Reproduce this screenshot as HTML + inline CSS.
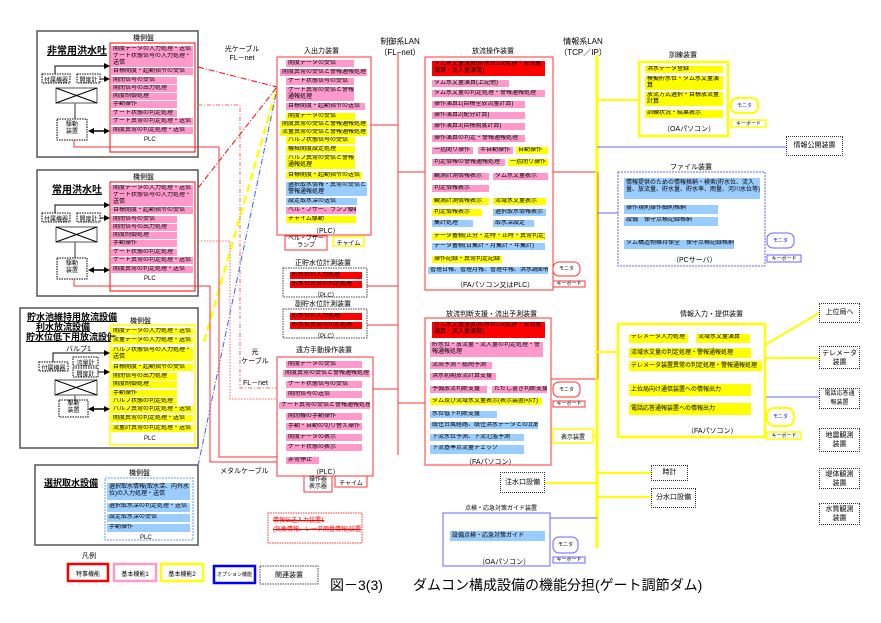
<!DOCTYPE html>
<html><head><meta charset="utf-8">
<style>
*{margin:0;padding:0;box-sizing:border-box}
body{width:881px;height:623px;background:#fff;position:relative;overflow:hidden;font-family:"Liberation Sans","Noto Sans CJK JP",sans-serif;color:#000}
div{position:absolute}
.r{font-size:6px;line-height:7px;padding-left:2px;white-space:nowrap;overflow:hidden}
.r2{font-size:6px;line-height:7px;padding-left:2px;white-space:normal;overflow:hidden}
.p{background:#ff99cc}.y{background:#ffff00}.b{background:#99ccff}.rd{background:#ff0000}
.t{font-size:7px;white-space:nowrap}
.bx{border:1px dotted #333}
.ctr{text-align:center}
svg{position:absolute;left:0;top:0}
</style></head><body>
<svg width="881" height="623">
<g fill="none" stroke="#555" stroke-width="1.5">
<rect x="37" y="31" width="161" height="126"/>
<rect x="37" y="170" width="161" height="126"/>
<rect x="20" y="308" width="178" height="140"/>
<rect x="35" y="465" width="163" height="80"/>
</g>
<g fill="none" stroke="#f00" stroke-width="1">
<rect x="110" y="43" width="85" height="109"/>
<rect x="110" y="182" width="85" height="109"/>
</g>
<rect x="110" y="325" width="85" height="120" fill="none" stroke="#ff0" stroke-width="1.5"/>
<rect x="105" y="478" width="88" height="62" fill="none" stroke="#69f" stroke-width="1" stroke-dasharray="2,1"/>
<g stroke="#000" stroke-width="1" fill="none">
<rect x="42" y="74" width="28" height="9" stroke-dasharray="1.5,1"/>
<rect x="77" y="74" width="23" height="9" stroke-dasharray="1.5,1"/>
<rect x="56" y="88" width="41" height="15" stroke="#555"/>
<line x1="56" y1="88" x2="97" y2="103"/><line x1="97" y1="88" x2="56" y2="103"/>
<line x1="75" y1="103" x2="75" y2="119" stroke="#777" stroke-width="1.5"/>
<rect x="57" y="119" width="30" height="21" stroke-dasharray="1.5,1"/>
<polyline points="55,74 55,66 104,66"/>
<line x1="100" y1="79" x2="104" y2="79"/>
<line x1="92" y1="131" x2="104" y2="131" stroke-width="1.5"/>
</g>
<g fill="#000">
<polygon points="104,63 110,66 104,69"/><polygon points="104,76 110,79 104,82"/><polygon points="104,128 110,131 104,134"/><polygon points="94,128 88,131 94,134"/>
</g>
<g transform="translate(0,139)" stroke="#000" stroke-width="1" fill="none">
<rect x="42" y="74" width="28" height="9" stroke-dasharray="1.5,1"/>
<rect x="77" y="74" width="23" height="9" stroke-dasharray="1.5,1"/>
<rect x="56" y="88" width="41" height="15" stroke="#555"/>
<line x1="56" y1="88" x2="97" y2="103"/><line x1="97" y1="88" x2="56" y2="103"/>
<line x1="75" y1="103" x2="75" y2="119" stroke="#777" stroke-width="1.5"/>
<rect x="57" y="119" width="30" height="21" stroke-dasharray="1.5,1"/>
<polyline points="55,74 55,66 104,66"/>
<line x1="100" y1="79" x2="104" y2="79"/>
<line x1="92" y1="131" x2="104" y2="131" stroke-width="1.5"/>
<g fill="#000" stroke="none"><polygon points="104,63 110,66 104,69"/><polygon points="104,76 110,79 104,82"/><polygon points="104,128 110,131 104,134"/><polygon points="94,128 88,131 94,134"/></g>
</g>
<g stroke="#000" stroke-width="1" fill="none">
<rect x="39" y="362" width="29" height="9" stroke-dasharray="1.5,1"/>
<rect x="73" y="357" width="25" height="9" stroke-dasharray="1.5,1"/>
<rect x="73" y="368" width="25" height="9" stroke-dasharray="1.5,1"/>
<rect x="55" y="380" width="42" height="15" stroke="#555"/>
<line x1="55" y1="380" x2="97" y2="395"/><line x1="97" y1="380" x2="55" y2="395"/>
<line x1="75" y1="395" x2="75" y2="400" stroke="#777" stroke-width="1.5"/>
<rect x="59" y="400" width="29" height="17" stroke-dasharray="1.5,1"/>
<polyline points="53,362 53,353 104,353"/>
<line x1="98" y1="372" x2="104" y2="372"/>
<line x1="94" y1="409" x2="104" y2="409" stroke-width="1.5"/>
</g>
<g fill="#000"><polygon points="104,350 110,353 104,356"/><polygon points="104,369 110,372 104,375"/><polygon points="104,406 110,409 104,412"/><polygon points="94,406 88,409 94,412"/></g>
<g fill="none" stroke-width="1">
<line x1="198" y1="67" x2="277" y2="87" stroke="#f00" stroke-dasharray="6,2,1,2"/>
<line x1="198" y1="188" x2="277" y2="87" stroke="#f00" stroke-dasharray="6,2,1,2"/>
<line x1="204" y1="342" x2="277" y2="88" stroke="#ff0" stroke-width="2.5" stroke-dasharray="8,4"/>
<line x1="198" y1="466" x2="277" y2="89" stroke="#36f" stroke-dasharray="6,2,1,2"/>
<polyline points="198,105 240,105 240,388 277,388" stroke="#f66" stroke-dasharray="4,2,1,2"/>
<polyline points="198,241 230,241 230,399 277,399" stroke="#f66" stroke-dasharray="1.5,1.5"/>
<polyline points="74,140 74,147 219,147 219,457 277,457" stroke="#f33"/>
<polyline points="74,279 74,286 210,286 210,462 277,462" stroke="#f33"/>
</g>
<g stroke="#f33" stroke-width="1" fill="none">
<line x1="398" y1="53" x2="398" y2="455"/>
<line x1="371" y1="125" x2="398" y2="125"/>
<line x1="398" y1="172" x2="425" y2="172"/>
<line x1="367" y1="286" x2="398" y2="286"/>
<line x1="367" y1="325" x2="398" y2="325"/>
<line x1="373" y1="389" x2="398" y2="389"/>
<line x1="398" y1="403" x2="425" y2="403"/>
<line x1="553" y1="172" x2="597" y2="172"/>
<line x1="551" y1="379" x2="597" y2="379"/>
</g>
<line x1="597" y1="55" x2="597" y2="548" stroke="#ff0" stroke-width="3"/>
<line x1="598" y1="172" x2="598" y2="379" stroke="#f60" stroke-width="1"/>
<g stroke="#ff0" stroke-width="2" fill="none">
<line x1="597" y1="100" x2="640" y2="100"/>
<line x1="597" y1="352" x2="618" y2="352"/>
<line x1="765" y1="345" x2="819" y2="313"/>
<line x1="765" y1="358" x2="819" y2="358"/>
<line x1="597" y1="473" x2="651" y2="473"/>
<line x1="597" y1="497" x2="651" y2="497"/>
<line x1="545" y1="483" x2="597" y2="483"/>
<line x1="593" y1="436" x2="597" y2="436"/>
</g>
<g stroke="#66f" stroke-width="1" fill="none">
<line x1="597" y1="147" x2="786" y2="147"/>
<line x1="597" y1="213" x2="618" y2="213"/>
<line x1="765" y1="397" x2="819" y2="397"/>
<line x1="550" y1="518" x2="597" y2="518"/>
</g>
<rect x="277" y="57" width="94" height="178" fill="none" stroke="#f33"/>
<rect x="425" y="57" width="128" height="233" fill="none" stroke="#f33"/>
<rect x="277" y="357" width="96" height="119" fill="none" stroke="#f33"/>
<rect x="425" y="318" width="126" height="147" fill="none" stroke="#f33"/>
<rect x="443" y="513" width="107" height="53" fill="none" stroke="#66f"/>
<rect x="639" y="62" width="89" height="74" fill="none" stroke="#ff0" stroke-width="2.5"/>
<rect x="618" y="172" width="147" height="94" fill="none" stroke="#66f" stroke-dasharray="2,1"/>
<rect x="618" y="324" width="147" height="113" fill="none" stroke="#ff0" stroke-width="2.5"/>
<rect x="283" y="268" width="84" height="29" fill="none" stroke="#444" stroke-dasharray="1.5,1"/>
<rect x="283" y="309" width="84" height="29" fill="none" stroke="#444" stroke-dasharray="1.5,1"/>
<rect x="268" y="513" width="94" height="30" fill="none" stroke="#f33" stroke-dasharray="1.5,1"/>
<g fill="#fff" stroke-width="1">
<rect x="285" y="236" width="42" height="14" stroke="#f33"/>
<rect x="333" y="237" width="31" height="9" stroke="#ff0" stroke-width="1.5"/>
<rect x="304" y="476" width="28" height="16" stroke="#f33"/>
<rect x="335" y="476" width="32" height="11" stroke="#f33"/>
<rect x="553" y="262" width="27" height="14" rx="6" stroke="#f33"/>
<rect x="553" y="281" width="32" height="6" stroke="#f33"/>
<rect x="553" y="382" width="27" height="15" rx="6" stroke="#f33"/>
<rect x="553" y="401" width="32" height="6" stroke="#f33"/>
<rect x="553" y="429" width="40" height="14" stroke="#ff0" stroke-width="1.5"/>
<rect x="553" y="537" width="25" height="16" rx="6" stroke="#66f"/>
<rect x="553" y="557" width="32" height="6" stroke="#66f"/>
<rect x="731" y="98" width="27" height="15" rx="6" stroke="#ff0" stroke-width="2"/>
<rect x="731" y="120" width="35" height="7" stroke="#ff0" stroke-width="1.5"/>
<rect x="767" y="233" width="27" height="15" rx="6" stroke="#66f"/>
<rect x="767" y="255" width="34" height="7" stroke="#66f"/>
<rect x="767" y="408" width="27" height="18" rx="7" stroke="#ff0" stroke-width="2"/>
<rect x="767" y="432" width="34" height="7" stroke="#ff0" stroke-width="1.5"/>
</g>
<rect x="68" y="564" width="40" height="17" fill="none" stroke="#f00" stroke-width="2.5"/>
<rect x="114" y="564" width="42" height="17" fill="none" stroke="#f9c" stroke-width="2.5"/>
<rect x="161" y="564" width="42" height="17" fill="none" stroke="#ff0" stroke-width="2.5"/>
<rect x="214" y="566" width="41" height="17" fill="none" stroke="#00f" stroke-width="2.5"/>
<rect x="260" y="566" width="58" height="18" fill="none" stroke="#444" stroke-dasharray="1.5,1"/>
</svg>

<div class="t" style="left:47px;top:42px;font-size:10px;font-weight:bold;text-decoration:underline">非常用洪水吐</div>
<div class="t" style="left:133px;top:33px">機側盤</div>
<div class="t" style="left:52px;top:181px;font-size:10px;font-weight:bold;text-decoration:underline">常用洪水吐</div>
<div class="t" style="left:133px;top:172px">機側盤</div>
<div class="t" style="left:27px;top:312px;font-size:9px;font-weight:bold;text-decoration:underline;line-height:10px">貯水池維持用放流設備</div>
<div class="t" style="left:36px;top:322px;font-size:9px;font-weight:bold;text-decoration:underline;line-height:10px">利水放流設備</div>
<div class="t" style="left:26px;top:332px;font-size:9px;font-weight:bold;text-decoration:underline;line-height:10px">貯水位低下用放流設備</div>
<div class="t" style="left:130px;top:316px">機側盤</div>
<div class="t" style="left:44px;top:476px;font-size:9px;font-weight:bold;text-decoration:underline">選択取水設備</div>
<div class="t" style="left:129px;top:468px">機側盤</div>
<div class="t" style="left:42px;top:75px;font-size:6px;width:28px;text-align:center">付属機器</div>
<div class="t" style="left:77px;top:75px;font-size:6px;width:23px;text-align:center">開度計</div>
<div class="t" style="left:57px;top:122px;font-size:6px;width:30px;text-align:center;line-height:7px">駆動<br>装置</div>
<div class="t" style="left:42px;top:214px;font-size:6px;width:28px;text-align:center">付属機器</div>
<div class="t" style="left:77px;top:214px;font-size:6px;width:23px;text-align:center">開度計</div>
<div class="t" style="left:57px;top:261px;font-size:6px;width:30px;text-align:center;line-height:7px">駆動<br>装置</div>
<div class="t" style="left:66px;top:344px;font-size:7px">バルブ1</div>
<div class="t" style="left:39px;top:363px;font-size:6px;width:29px;text-align:center">付属機器</div>
<div class="t" style="left:73px;top:358px;font-size:6px;width:25px;text-align:center">流量計</div>
<div class="t" style="left:73px;top:369px;font-size:6px;width:25px;text-align:center">開度計</div>
<div class="t" style="left:59px;top:401px;font-size:6px;width:29px;text-align:center;line-height:7px">駆動<br>装置</div>

<div class="r p" style="left:111px;top:46px;width:82px">開度データの入力処理・送信</div>
<div class="r2 p" style="left:111px;top:53px;width:82px;height:14px">ゲート状態信号の入力処理・送信</div>
<div class="r p" style="left:111px;top:68px;width:82px">目標開度・起動指令の受信</div>
<div class="r p" style="left:111px;top:77px;width:66px">開閉信号の受信</div>
<div class="r p" style="left:111px;top:85px;width:66px">開閉信号の出力処理</div>
<div class="r p" style="left:111px;top:93px;width:66px">開度制御処理</div>
<div class="r p" style="left:111px;top:101px;width:66px">手動操作</div>
<div class="r p" style="left:111px;top:110px;width:66px">ゲート状態の判定処理</div>
<div class="r p" style="left:111px;top:118px;width:82px">ゲート異常の判定処理・送信</div>
<div class="r p" style="left:111px;top:127px;width:82px">開度異常の判定処理・送信</div>
<div class="t" style="left:144px;top:137px;font-size:6px">PLC</div>
<div class="r p" style="left:111px;top:185px;width:82px">開度データの入力処理・送信</div>
<div class="r2 p" style="left:111px;top:192px;width:82px;height:14px">ゲート状態信号の入力処理・送信</div>
<div class="r p" style="left:111px;top:207px;width:82px">目標開度・起動指令の受信</div>
<div class="r p" style="left:111px;top:216px;width:66px">開閉信号の受信</div>
<div class="r p" style="left:111px;top:224px;width:66px">開閉信号の出力処理</div>
<div class="r p" style="left:111px;top:232px;width:66px">開度制御処理</div>
<div class="r p" style="left:111px;top:240px;width:66px">手動操作</div>
<div class="r p" style="left:111px;top:249px;width:66px">ゲート状態の判定処理</div>
<div class="r p" style="left:111px;top:257px;width:82px">ゲート異常の判定処理・送信</div>
<div class="r p" style="left:111px;top:266px;width:82px">開度異常の判定処理・送信</div>
<div class="t" style="left:144px;top:276px;font-size:6px">PLC</div>
<div class="r y" style="left:111px;top:328px;width:82px">開度データの入力処理・送信</div>
<div class="r y" style="left:111px;top:337px;width:82px">流量データの入力処理・送信</div>
<div class="r2 y" style="left:111px;top:347px;width:82px;height:14px">バルブ状態信号の入力処理・送信</div>
<div class="r y" style="left:111px;top:364px;width:82px">目標開度・起動指令の受信</div>
<div class="r y" style="left:111px;top:373px;width:66px">開閉信号の出力処理</div>
<div class="r y" style="left:111px;top:381px;width:66px">開度制御処理</div>
<div class="r y" style="left:111px;top:390px;width:66px">手動操作</div>
<div class="r y" style="left:111px;top:398px;width:66px">バルブ状態の判定処理</div>
<div class="r y" style="left:111px;top:406px;width:82px">バルブ異常の判定処理・送信</div>
<div class="r y" style="left:111px;top:415px;width:82px">開度異常の判定処理・送信</div>
<div class="r y" style="left:111px;top:425px;width:82px">流量計異常の判定処理・送信</div>
<div class="t" style="left:144px;top:436px;font-size:6px">PLC</div>
<div class="r2 b" style="left:107px;top:483px;width:83px;height:17px;padding-top:1px">選択取水情報(取水深、内外水位)の入力処理・送信</div>
<div class="r b" style="left:107px;top:503px;width:83px;height:9px">選択取水深の判定処理・送信</div>
<div class="r b" style="left:107px;top:514px;width:83px;height:8px">設定取水深の受信</div>
<div class="r b" style="left:107px;top:524px;width:83px;height:8px">手動操作</div>
<div class="t" style="left:140px;top:535px;font-size:6px">PLC</div>
<div class="t" style="left:82px;top:551px;font-size:7px">凡例</div>
<div class="t ctr" style="left:68px;top:569px;width:40px;font-size:6px">特事機能</div>
<div class="t ctr" style="left:114px;top:569px;width:42px;font-size:6px">基本機能1</div>
<div class="t ctr" style="left:161px;top:569px;width:42px;font-size:6px">基本機能2</div>
<div class="t ctr" style="left:214px;top:571px;width:41px;font-size:5px">オプション機能</div>
<div class="t ctr" style="left:260px;top:570px;width:58px;font-size:7px">関連装置</div>

<div class="t ctr" style="left:222px;top:45px;width:40px;line-height:9px">光ケーブル<br>FL－net</div>
<div class="t ctr" style="left:240px;top:348px;width:30px;line-height:9px">光<br>ケーブル</div>
<div class="t" style="left:243px;top:378px">FL－net</div>
<div class="t" style="left:220px;top:466px">メタルケーブル</div>
<div class="t ctr" style="left:372px;top:36px;width:56px;font-size:8px;line-height:11px">制御系LAN<br>（FL−net）</div>
<div class="t ctr" style="left:555px;top:36px;width:56px;font-size:8px;line-height:11px">情報系LAN<br>（TCP／IP）</div>

<div class="t" style="left:304px;top:46px">入出力装置</div>
<div class="r p" style="left:286px;top:60px;width:68px">開度データの受信</div>
<div class="r p" style="left:280px;top:69px;width:87px">開度異常の受信と警報通報処理</div>
<div class="r p" style="left:286px;top:78px;width:68px">ゲート状態信号の受信</div>
<div class="r2 p" style="left:286px;top:87px;width:68px;height:14px">ゲート異常の受信と警報通報処理</div>
<div class="r p" style="left:286px;top:103px;width:79px">目標開度・起動指令の送信</div>
<div class="r y" style="left:286px;top:113px;width:69px">開度データの受信</div>
<div class="r y" style="left:280px;top:121px;width:87px">開度異常の受信と警報通報処理</div>
<div class="r y" style="left:280px;top:129px;width:87px">流量異常の受信と警報通報処理</div>
<div class="r y" style="left:286px;top:137px;width:69px">バルブ状態信号の受信</div>
<div class="r y" style="left:286px;top:146px;width:69px">機械開度設定処理</div>
<div class="r2 y" style="left:286px;top:155px;width:69px;height:14px">バルブ異常の受信と警報通報処理</div>
<div class="r y" style="left:286px;top:172px;width:76px">目標開度・起動指令の送信</div>
<div class="r2 b" style="left:286px;top:182px;width:81px;height:14px">選択取水情報・異常の受信と警報通報処理</div>
<div class="r b" style="left:286px;top:198px;width:71px">設定取水深の送信</div>
<div class="r p" style="left:286px;top:207px;width:70px">ベル・ブザー、ランプ駆動</div>
<div class="r y" style="left:286px;top:216px;width:70px">チャイム駆動</div>
<div class="t" style="left:312px;top:226px">（PLC）</div>
<div class="t ctr" style="left:285px;top:236px;width:42px;font-size:6px;line-height:7px">ベル・ブザー<br>ランプ</div>
<div class="t ctr" style="left:333px;top:238px;width:31px;font-size:6px">チャイム</div>

<div class="t" style="left:295px;top:258px">正貯水位計測装置</div>
<div class="r rd" style="left:290px;top:272px;width:72px">貯水位の入力処理</div>
<div class="r rd" style="left:290px;top:281px;width:72px">貯水位異常の判定処理</div>
<div class="t" style="left:314px;top:290px;font-size:6px">（PLC）</div>
<div class="t" style="left:295px;top:299px">副貯水位計測装置</div>
<div class="r rd" style="left:290px;top:313px;width:72px">貯水位の入力処理</div>
<div class="r rd" style="left:290px;top:322px;width:72px">貯水位異常の判定処理</div>
<div class="t" style="left:314px;top:331px;font-size:6px">（PLC）</div>

<div class="t" style="left:296px;top:345px">遠方手動操作装置</div>
<div class="r p" style="left:286px;top:361px;width:76px">開度データの受信</div>
<div class="r p" style="left:283px;top:370px;width:87px">開度異常の受信と警報通報処理</div>
<div class="r p" style="left:286px;top:381px;width:76px">ゲート状態信号の受信</div>
<div class="r p" style="left:286px;top:391px;width:76px">開閉信号の送信</div>
<div class="r p" style="left:279px;top:402px;width:91px">ゲート異常の受信と警報通報処理</div>
<div class="r p" style="left:286px;top:413px;width:76px">開閉機の手動操作</div>
<div class="r p" style="left:286px;top:423px;width:76px">手動・自動の切り替え操作</div>
<div class="r p" style="left:286px;top:434px;width:76px">開度データの表示</div>
<div class="r p" style="left:286px;top:444px;width:76px">ゲート状態の表示</div>
<div class="r p" style="left:286px;top:457px;width:33px">非常停止</div>
<div class="t" style="left:312px;top:467px">（PLC）</div>
<div class="t ctr" style="left:304px;top:477px;width:28px;font-size:6px;line-height:7px">操作器<br>表示器</div>
<div class="t ctr" style="left:335px;top:478px;width:32px;font-size:6px">チャイム</div>

<div class="t" style="left:273px;top:517px;font-size:6px;color:#f00;text-decoration:line-through;line-height:9px">情報伝送入力装置1<br>(気象情報、レーダ雨量情報)装置</div>

<div class="t" style="left:472px;top:46px">放流操作装置</div>
<div class="r2 rd" style="left:432px;top:61px;width:113px;height:15px">ダム水文量演算(貯水位2次処理・放流量演算・流入量演算)</div>
<div class="r p" style="left:432px;top:80px;width:77px">ダム水文量演算(上記他)</div>
<div class="r p" style="left:432px;top:90px;width:113px">ダム水文量の判定処理・警報通報処理</div>
<div class="r p" style="left:432px;top:101px;width:93px">操作演算1(目標全放流量計算)</div>
<div class="r p" style="left:432px;top:112px;width:93px">操作演算2(配分計算)</div>
<div class="r p" style="left:432px;top:123px;width:93px">操作演算3(目標開度計算)</div>
<div class="r p" style="left:432px;top:135px;width:93px">操作演算の判定・警報通報処理</div>
<div class="r p" style="left:432px;top:147px;width:41px">一括開り操作</div>
<div class="r p" style="left:478px;top:147px;width:35px">半自動操作</div>
<div class="r y" style="left:516px;top:147px;width:32px">自動操作</div>
<div class="r p" style="left:432px;top:159px;width:73px">判定情報の警報通報処理</div>
<div class="r y" style="left:508px;top:159px;width:40px">一括閉り操作</div>
<div class="r p" style="left:432px;top:173px;width:57px">観測計測情報表示</div>
<div class="r p" style="left:493px;top:173px;width:55px">ダム水文量表示</div>
<div class="r p" style="left:432px;top:185px;width:57px">判定情報表示</div>
<div class="r y" style="left:432px;top:198px;width:57px">観測計測情報表示</div>
<div class="r y" style="left:493px;top:198px;width:53px">流域水文量表示</div>
<div class="r y" style="left:432px;top:209px;width:50px">判定情報表示</div>
<div class="r b" style="left:493px;top:209px;width:53px">選択取水情報表示</div>
<div class="r b" style="left:432px;top:220px;width:41px">集計処理</div>
<div class="r b" style="left:493px;top:220px;width:41px">取水深設定</div>
<div class="r y" style="left:432px;top:233px;width:113px">データ蓄積(正分・定時・正時・異常判定)</div>
<div class="r b" style="left:432px;top:243px;width:113px">データ蓄積(日集計・月集計・年集計)</div>
<div class="r y" style="left:432px;top:256px;width:70px">操作記録・異常判定記録</div>
<div class="r b" style="left:428px;top:267px;width:120px">管理日報、管理月報、管理年報、洪水調節報告</div>
<div class="t" style="left:456px;top:280px">（FAパソコン又はPLC）</div>
<div class="t ctr" style="left:553px;top:265px;width:27px;font-size:5px">モニタ</div>
<div class="t ctr" style="left:553px;top:280px;width:32px;font-size:5px">キーボード</div>

<div class="t" style="left:446px;top:309px">放流判断支援・流出予測装置</div>
<div class="r2 rd" style="left:432px;top:322px;width:113px;height:16px">ダム水文量演算(貯水位2次処理・放流量演算・流入量演算)</div>
<div class="r2 p" style="left:430px;top:342px;width:113px;height:15px">貯水位・放流量・流入量の判定処理・警報通報処理</div>
<div class="r p" style="left:430px;top:362px;width:62px">流出予測・総雨予測</div>
<div class="r p" style="left:430px;top:373px;width:66px">洪水初期放流計算支援</div>
<div class="r p" style="left:430px;top:386px;width:57px">予備放流判断支援</div>
<div class="r p" style="left:492px;top:386px;width:55px">ただし書き判断支援</div>
<div class="r y" style="left:430px;top:398px;width:112px">ダム及び流域水文量表示(表示装置向け)</div>
<div class="r b" style="left:430px;top:411px;width:67px">水位低下判断支援</div>
<div class="r b" style="left:430px;top:422px;width:108px">既往台風経路、既往洪水データとの比較</div>
<div class="r b" style="left:430px;top:434px;width:94px">下流水位予測、下流氾濫予測</div>
<div class="r b" style="left:430px;top:445px;width:94px;height:9px">下流基準点流量チェック</div>
<div class="t" style="left:465px;top:457px">（FAパソコン）</div>
<div class="t ctr" style="left:553px;top:386px;width:27px;font-size:5px">モニタ</div>
<div class="t ctr" style="left:553px;top:400px;width:32px;font-size:5px">キーボード</div>
<div class="t ctr" style="left:553px;top:432px;width:40px;font-size:6px">表示装置</div>
<div class="bx t ctr" style="left:500px;top:472px;width:45px;height:21px;line-height:19px;font-size:7px">注水口設備</div>

<div class="t" style="left:465px;top:503px;font-size:6px">点検・応急対策ガイド装置</div>
<div class="r b" style="left:450px;top:531px;width:95px;height:10px;line-height:10px">設備点検・応急対策ガイド</div>
<div class="t" style="left:478px;top:557px">（OAパソコン）</div>
<div class="t ctr" style="left:553px;top:541px;width:25px;font-size:5px">モニタ</div>
<div class="t ctr" style="left:553px;top:556px;width:32px;font-size:5px">キーボード</div>

<div class="t" style="left:669px;top:50px">訓練装置</div>
<div class="r y" style="left:645px;top:66px;width:78px;height:7px">洪水データ登録</div>
<div class="r2 y" style="left:645px;top:76px;width:78px;height:14px">模擬貯水位・ダム水文量演算</div>
<div class="r2 y" style="left:645px;top:92px;width:78px;height:14px">放流方式選択・目標放流量計算</div>
<div class="r y" style="left:645px;top:110px;width:78px;height:8px">訓練状況・結果表示</div>
<div class="t" style="left:663px;top:124px">（OAパソコン）</div>
<div class="t ctr" style="left:731px;top:102px;width:27px;font-size:5px;color:#00f">モニタ</div>
<div class="t ctr" style="left:731px;top:120px;width:35px;font-size:5px">キーボード</div>
<div class="bx t ctr" style="left:786px;top:136px;width:57px;height:20px;line-height:18px;font-size:7px">情報公開装置</div>

<div class="t" style="left:670px;top:162px">ファイル装置</div>
<div class="r2 b" style="left:624px;top:178px;width:136px;height:21px;padding-top:2px">情報提供のための情報格納・検索(貯水位、流入量、放流量、貯水量、貯水率、雨量、河川水位等)</div>
<div class="r b" style="left:624px;top:205px;width:94px;height:9px">操作規則操作細則格納</div>
<div class="r b" style="left:624px;top:217px;width:94px;height:9px">設備　保守点検記録格納</div>
<div class="r b" style="left:624px;top:240px;width:110px;height:9px">ダム構造物維持保全　保守点検記録格納</div>
<div class="t" style="left:672px;top:255px">（PCサーバ）</div>
<div class="t ctr" style="left:767px;top:237px;width:27px;font-size:5px;color:#00f">モニタ</div>
<div class="t ctr" style="left:767px;top:255px;width:34px;font-size:5px">キーボード</div>

<div class="t" style="left:680px;top:309px">情報入力・提供装置</div>
<div class="r y" style="left:629px;top:334px;width:59px;height:9px">テレメータ入力処理</div>
<div class="r y" style="left:696px;top:334px;width:54px;height:9px">流域水文量演算</div>
<div class="r y" style="left:629px;top:348px;width:122px;height:10px;line-height:10px">流域水文量の判定処理・警報通報処理</div>
<div class="r y" style="left:629px;top:361px;width:133px;height:10px;line-height:10px">テレメータ装置異常の判定処理・警報通報処理</div>
<div class="r y" style="left:629px;top:384px;width:122px;height:12px;line-height:12px">上位局向け通信装置への情報出力</div>
<div class="r y" style="left:629px;top:403px;width:122px;height:12px;line-height:12px">電話応答通報装置への情報出力</div>
<div class="t" style="left:687px;top:426px">（FAパソコン）</div>
<div class="t ctr" style="left:767px;top:413px;width:27px;font-size:5px;color:#00f">モニタ</div>
<div class="t ctr" style="left:767px;top:432px;width:34px;font-size:5px">キーボード</div>

<div class="bx t ctr" style="left:819px;top:303px;width:41px;height:20px;line-height:18px;font-size:7px">上位局へ</div>
<div class="bx t ctr" style="left:819px;top:346px;width:41px;height:23px;padding-top:2px;line-height:9px;font-size:7px">テレメータ<br>装置</div>
<div class="bx t ctr" style="left:819px;top:388px;width:41px;height:21px;padding-top:1px;line-height:9px;font-size:6px">電話応答通<br>報装置</div>
<div class="bx t ctr" style="left:819px;top:428px;width:41px;height:24px;padding-top:2px;line-height:9px;font-size:7px">地震観測<br>装置</div>
<div class="bx t ctr" style="left:819px;top:468px;width:41px;height:21px;padding-top:1px;line-height:9px;font-size:7px">堤体観測<br>装置</div>
<div class="bx t ctr" style="left:819px;top:503px;width:41px;height:22px;padding-top:1px;line-height:9px;font-size:7px">水質観測<br>装置</div>
<div class="bx t ctr" style="left:651px;top:465px;width:37px;height:16px;line-height:14px;font-size:7px">時計</div>
<div class="bx t ctr" style="left:651px;top:488px;width:45px;height:20px;line-height:18px;font-size:7px">分水口設備</div>

<div class="t" style="left:330px;top:575px;font-size:14px">図－3(3)</div>
<div class="t" style="left:413px;top:575px;font-size:14px">ダムコン構成設備の機能分担(ゲート調節ダム)</div>
</body></html>
